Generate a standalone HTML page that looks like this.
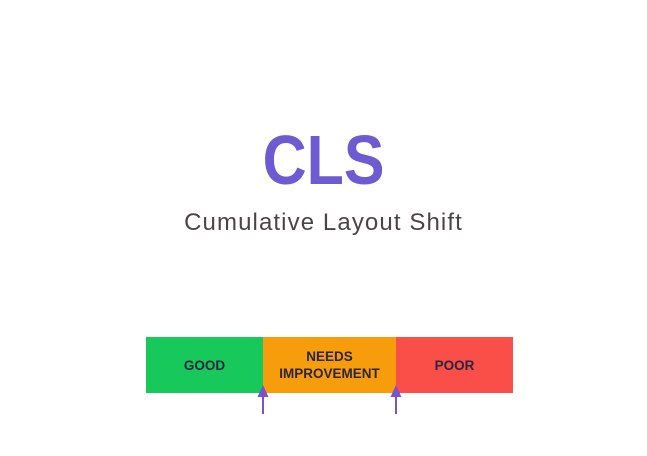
<!DOCTYPE html>
<html><head><style>
body{margin:0;width:647px;height:456px;background:#fff;position:relative;font-family:"Liberation Sans",sans-serif;overflow:hidden}
.t{position:absolute;left:0;width:647px;text-align:center}
.seg{position:absolute;top:337px;height:56px;display:flex;align-items:center;justify-content:center;text-align:center;font-weight:bold;font-size:13.5px;color:#2a2540;line-height:17px}
</style></head><body>
<div class="t" style="top:120px;font-size:70px;font-weight:bold;color:#6e5bd2;line-height:80px;transform:scaleX(0.87);transform-origin:324px 0">CLS</div>
<div class="t" style="top:208px;font-size:24px;color:#4a4446;line-height:30px;letter-spacing:1.1px">Cumulative Layout Shift</div>
<div class="seg" style="left:146px;width:117px;background:#16c95a">GOOD</div>
<div class="seg" style="left:263px;width:133px;background:#f79c0a">NEEDS<br>IMPROVEMENT</div>
<div class="seg" style="left:396px;width:117px;background:#fa4e48">POOR</div>
<svg style="position:absolute;left:0;top:0" width="647" height="456">
<g fill="#7a52cc" stroke="#7a52cc">
<polygon points="263,385 257.5,397 268.5,397" stroke="none"/>
<line x1="263" y1="396" x2="263" y2="414" stroke-width="2"/>
<polygon points="396,385 390.5,397 401.5,397" stroke="none"/>
<line x1="396" y1="396" x2="396" y2="414" stroke-width="2"/>
</g></svg>
</body></html>
